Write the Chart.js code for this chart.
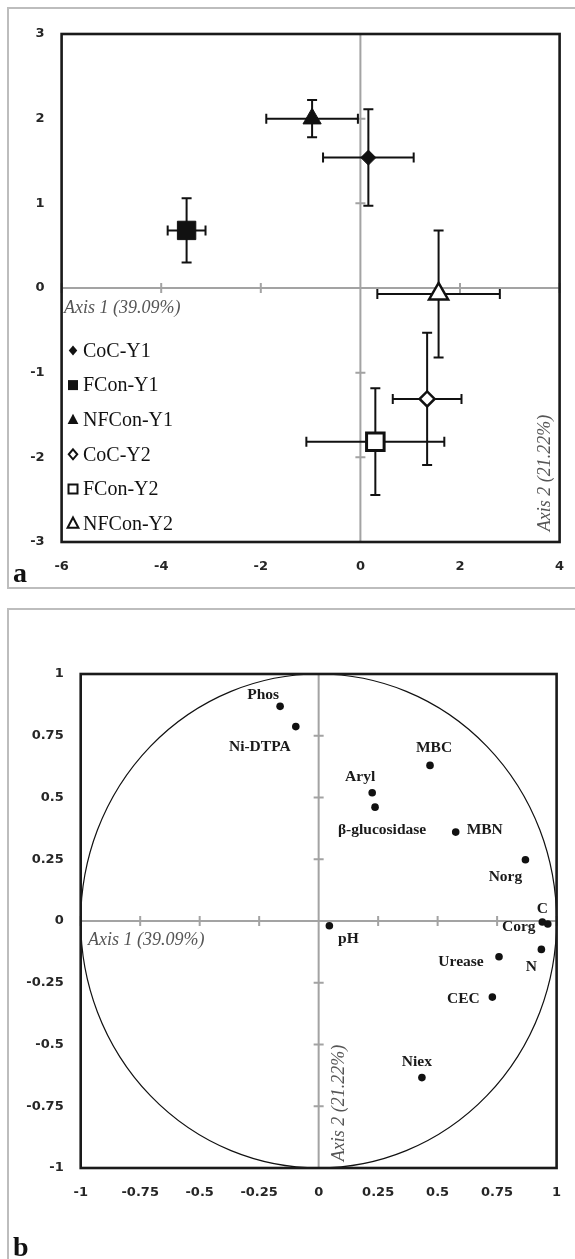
<!DOCTYPE html>
<html><head><meta charset="utf-8">
<script src="https://cdn.jsdelivr.net/npm/chart.js@4.4.0/dist/chart.umd.min.js"></script>
<style>
html,body{margin:0;padding:0;background:#fff;width:575px;height:1259px;overflow:hidden;position:relative}
#frameA{position:absolute;left:7px;top:7px;width:640px;height:582px;border:2px solid #bdbdbd;border-right:none;box-sizing:border-box}
#frameB{position:absolute;left:7px;top:608px;width:640px;height:700px;border:2px solid #bdbdbd;border-right:none;border-bottom:none;box-sizing:border-box}
#wa{position:absolute;left:0;top:0;width:575px;height:600px}
#wb{position:absolute;left:0;top:600px;width:575px;height:659px}
canvas{display:block}
</style></head>
<body>
<div id="frameA"></div><div id="frameB"></div>
<div id="wa"><canvas id="ca" width="575" height="600"></canvas></div>
<div id="wb"><canvas id="cb" width="575" height="659"></canvas></div>
<script>
// ---------- Panel a data ----------
const seriesNames = ['CoC-Y1','FCon-Y1','NFCon-Y1','CoC-Y2','FCon-Y2','NFCon-Y2'];
const axis1Scores = [0.16, -3.49, -0.97, 1.34, 0.30, 1.57];
const axis2Scores = [1.54, 0.68, 2.00, -1.31, -1.815, -0.07];
const axis1Err = [0.91, 0.38, 0.92, 0.69, 1.385, 1.23];
const axis2Err = [0.57, 0.38, 0.22, 0.78, 0.63, 0.75];
const xTicksA = [-6, -4, -2, 0, 2, 4];
const yTicksA = [-3, -2, -1, 0, 1, 2, 3];

// ---------- Panel b data ----------
const variables = ['Phos','Ni-DTPA','MBC','Aryl','β-glucosidase','MBN','Norg','C','Corg','pH','N','Urease','CEC','Niex'];
const loading1 = [-0.162, -0.096, 0.468, 0.225, 0.237, 0.576, 0.869, 0.940, 0.963, 0.045, 0.936, 0.758, 0.730, 0.434];
const loading2 = [0.869, 0.787, 0.630, 0.519, 0.461, 0.360, 0.248, -0.004, -0.012, -0.019, -0.115, -0.145, -0.308, -0.634];
const ticksB = [-1, -0.75, -0.5, -0.25, 0, 0.25, 0.5, 0.75, 1];

// ---------- styles / layout ----------
const markerStyles = [
  {pointStyle:'rectRot', radius:7.5, fill:'#111', border:1},
  {pointStyle:'rect', radius:13, fill:'#111', border:1},
  {pointStyle:'triangle', radius:10.5, fill:'#111', border:1},
  {pointStyle:'rectRot', radius:7.5, fill:'#fff', border:2.5},
  {pointStyle:'rect', radius:12.4, fill:'#fff', border:3},
  {pointStyle:'triangle', radius:11, fill:'#fff', border:2.5}
];
const legendMarkers = [
  {shape:'diamond', size:5, filled:true},
  {shape:'square', size:5, filled:true},
  {shape:'triangle', size:6, filled:true},
  {shape:'diamond', size:5, filled:false},
  {shape:'square', size:4.5, filled:false},
  {shape:'triangle', size:6, filled:false}
];
const labelOffsets = [[-17,-11],[-36,20],[4,-17],[-12,-16],[7,23],[29,-2],[-20,17],[0,-13],[-29,3],[19,13],[-10,18],[-38,5],[-29,2],[-5,-16]];

const tickFont = {family:'"DejaVu Sans", sans-serif', weight:'bold', size:13};
const tickColor = '#262626';
const AXISGRAY = '#a3a3a3';

function zeroAxes(chart, tickHalf) {
  const {ctx, chartArea:ca, scales:{x, y}} = chart;
  const x0 = x.getPixelForValue(0), y0 = y.getPixelForValue(0);
  ctx.save();
  ctx.strokeStyle = AXISGRAY; ctx.lineWidth = 2;
  ctx.beginPath();
  ctx.moveTo(ca.left, y0); ctx.lineTo(ca.right, y0);
  ctx.moveTo(x0, ca.top); ctx.lineTo(x0, ca.bottom);
  x.ticks.forEach(t => { const p = x.getPixelForValue(t.value); ctx.moveTo(p, y0 - 5); ctx.lineTo(p, y0 + 5); });
  y.ticks.forEach(t => { const p = y.getPixelForValue(t.value); ctx.moveTo(x0 - 5, p); ctx.lineTo(x0 + 5, p); });
  ctx.stroke();
  ctx.restore();
}
function frame(chart) {
  const {ctx, chartArea:ca} = chart;
  ctx.save();
  ctx.strokeStyle = '#1a1a1a'; ctx.lineWidth = 2.6;
  ctx.strokeRect(ca.left, ca.top, ca.right - ca.left, ca.bottom - ca.top);
  ctx.restore();
}
function axisTexts(ctx, a1x, a1y, a2x, a2y) {
  ctx.save();
  ctx.fillStyle = '#555';
  ctx.font = 'italic 18px "Liberation Serif", "Times New Roman", serif';
  ctx.textAlign = 'left'; ctx.textBaseline = 'middle';
  ctx.fillText('Axis 1 (39.09%)', a1x, a1y);
  ctx.translate(a2x, a2y); ctx.rotate(-Math.PI / 2);
  ctx.textAlign = 'center';
  ctx.fillText('Axis 2 (21.22%)', 0, 0);
  ctx.restore();
}
function noPad(s) { s.paddingTop = 0; s.paddingBottom = 0; s.paddingLeft = 0; s.paddingRight = 0; }

// ---------- Chart a ----------
const plugA = {
  id: 'plugA',
  beforeDatasetsDraw(chart) {
    zeroAxes(chart);
    const {ctx, scales:{x, y}} = chart;
    ctx.save();
    ctx.strokeStyle = '#111'; ctx.lineWidth = 2;
    ctx.beginPath();
    chart.data.datasets.forEach((ds, i) => {
      const p = ds.data[0];
      const cx = x.getPixelForValue(p.x), cy = y.getPixelForValue(p.y);
      const xl = x.getPixelForValue(p.x - axis1Err[i]), xr = x.getPixelForValue(p.x + axis1Err[i]);
      const yt = y.getPixelForValue(p.y + axis2Err[i]), yb = y.getPixelForValue(p.y - axis2Err[i]);
      ctx.moveTo(xl, cy); ctx.lineTo(xr, cy);
      ctx.moveTo(xl, cy - 5); ctx.lineTo(xl, cy + 5);
      ctx.moveTo(xr, cy - 5); ctx.lineTo(xr, cy + 5);
      ctx.moveTo(cx, yt); ctx.lineTo(cx, yb);
      ctx.moveTo(cx - 5, yt); ctx.lineTo(cx + 5, yt);
      ctx.moveTo(cx - 5, yb); ctx.lineTo(cx + 5, yb);
    });
    ctx.stroke();
    ctx.restore();
  },
  afterDraw(chart) {
    const ctx = chart.ctx;
    frame(chart);
    axisTexts(ctx, 64, 308, 545, 473);
    // legend
    ctx.save();
    seriesNames.forEach((name, i) => {
      const ly = 350.5 + i * 34.6, lx = 73;
      const m = legendMarkers[i];
      ctx.beginPath();
      if (m.shape === 'diamond') { ctx.moveTo(lx, ly - m.size); ctx.lineTo(lx + m.size * 0.85, ly); ctx.lineTo(lx, ly + m.size); ctx.lineTo(lx - m.size * 0.85, ly); ctx.closePath(); }
      else if (m.shape === 'square') { ctx.rect(lx - m.size, ly - m.size, m.size * 2, m.size * 2); }
      else { ctx.moveTo(lx, ly - m.size); ctx.lineTo(lx + m.size * 0.9, ly + m.size * 0.7); ctx.lineTo(lx - m.size * 0.9, ly + m.size * 0.7); ctx.closePath(); }
      if (m.filled) { ctx.fillStyle = '#111'; ctx.fill(); }
      else { ctx.fillStyle = '#fff'; ctx.fill(); ctx.strokeStyle = '#111'; ctx.lineWidth = 2; ctx.stroke(); }
      ctx.fillStyle = '#111';
      ctx.font = '20px "Liberation Serif", "Times New Roman", serif';
      ctx.textAlign = 'left'; ctx.textBaseline = 'middle';
      ctx.fillText(name, 83, ly + 1);
    });
    ctx.font = 'bold 28px "Liberation Serif", "Times New Roman", serif';
    ctx.textBaseline = 'alphabetic';
    ctx.fillText('a', 13, 582);
    ctx.restore();
  }
};

new Chart(document.getElementById('ca'), {
  type: 'scatter',
  data: {
    datasets: seriesNames.map((name, i) => ({
      label: name,
      data: [{x: axis1Scores[i], y: axis2Scores[i]}],
      pointStyle: markerStyles[i].pointStyle,
      pointRadius: markerStyles[i].radius,
      pointBackgroundColor: markerStyles[i].fill,
      pointBorderColor: '#111',
      pointBorderWidth: markerStyles[i].border,
      clip: false
    }))
  },
  options: {
    responsive: false, animation: false, devicePixelRatio: 1,
    layout: {padding: {top: 34, right: 15, left: 0, bottom: 0}},
    plugins: {legend: {display: false}, tooltip: {enabled: false}},
    scales: {
      x: {type: 'linear', min: -6, max: 4,
        afterBuildTicks: s => { s.ticks = xTicksA.map(v => ({value: v})); },
        afterFit: s => { s.height = 58; noPad(s); },
        grid: {display: false, drawTicks: false}, border: {display: false},
        ticks: {padding: 17, font: tickFont, color: tickColor, maxRotation: 0, autoSkip: false, callback: v => String(v)}},
      y: {type: 'linear', min: -3, max: 3,
        afterBuildTicks: s => { s.ticks = yTicksA.map(v => ({value: v})); },
        afterFit: s => { s.width = 61.6; noPad(s); },
        grid: {display: false, drawTicks: false}, border: {display: false},
        ticks: {padding: 17, font: tickFont, color: tickColor, autoSkip: false, callback: v => String(v)}}
    }
  },
  plugins: [plugA]
});

// ---------- Chart b ----------
const plugB = {
  id: 'plugB',
  beforeDatasetsDraw(chart) {
    zeroAxes(chart);
    const {ctx, scales:{x, y}} = chart;
    const x0 = x.getPixelForValue(0), y0 = y.getPixelForValue(0);
    const rx = x.getPixelForValue(1) - x0, ry = y0 - y.getPixelForValue(1);
    ctx.save();
    ctx.strokeStyle = '#111'; ctx.lineWidth = 1.2;
    ctx.beginPath(); ctx.ellipse(x0, y0, rx, ry, 0, 0, Math.PI * 2); ctx.stroke();
    ctx.restore();
  },
  afterDraw(chart) {
    const {ctx, scales:{x, y}} = chart;
    frame(chart);
    ctx.save();
    ctx.fillStyle = '#1a1a1a';
    ctx.font = 'bold 15.5px "Liberation Serif", "Times New Roman", serif';
    ctx.textAlign = 'center'; ctx.textBaseline = 'middle';
    variables.forEach((name, i) => {
      const px = x.getPixelForValue(loading1[i]) + labelOffsets[i][0];
      const py = y.getPixelForValue(loading2[i]) + labelOffsets[i][1];
      ctx.fillText(name, px, py);
    });
    ctx.restore();
    axisTexts(ctx, 88, 340, 339, 503);
    ctx.save();
    ctx.fillStyle = '#111';
    ctx.font = 'bold 28px "Liberation Serif", "Times New Roman", serif';
    ctx.textBaseline = 'alphabetic'; ctx.textAlign = 'left';
    ctx.fillText('b', 13, 656);
    ctx.restore();
  }
};

new Chart(document.getElementById('cb'), {
  type: 'scatter',
  data: {
    datasets: [{
      label: 'variables',
      data: variables.map((v, i) => ({x: loading1[i], y: loading2[i]})),
      pointStyle: 'circle', pointRadius: 3.8,
      pointBackgroundColor: '#111', pointBorderColor: '#111', pointBorderWidth: 0,
      clip: false
    }]
  },
  options: {
    responsive: false, animation: false, devicePixelRatio: 1,
    layout: {padding: {top: 74, right: 18.4, left: 0, bottom: 0}},
    plugins: {legend: {display: false}, tooltip: {enabled: false}},
    scales: {
      x: {type: 'linear', min: -1, max: 1,
        afterBuildTicks: s => { s.ticks = ticksB.map(v => ({value: v})); },
        afterFit: s => { s.height = 91; noPad(s); },
        grid: {display: false, drawTicks: false}, border: {display: false},
        ticks: {padding: 17, font: tickFont, color: tickColor, maxRotation: 0, autoSkip: false, callback: v => String(v)}},
      y: {type: 'linear', min: -1, max: 1,
        afterBuildTicks: s => { s.ticks = ticksB.map(v => ({value: v})); },
        afterFit: s => { s.width = 80.7; noPad(s); },
        grid: {display: false, drawTicks: false}, border: {display: false},
        ticks: {padding: 17, font: tickFont, color: tickColor, autoSkip: false, callback: v => String(v)}}
    }
  },
  plugins: [plugB]
});
</script>
</body></html>
